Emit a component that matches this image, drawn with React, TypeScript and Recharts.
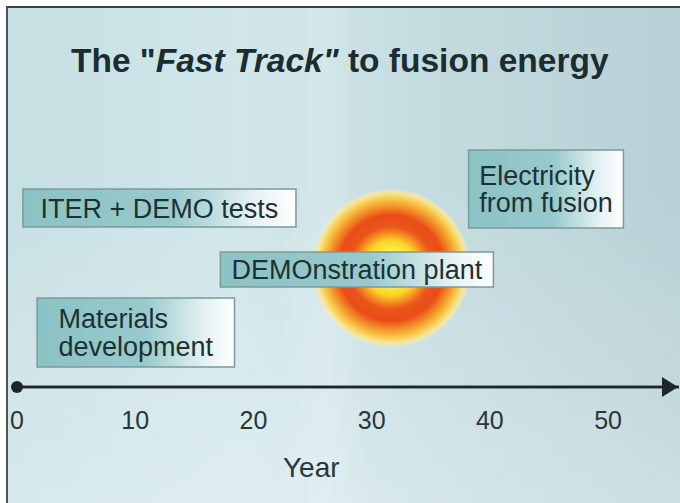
import React from "react";
import { ComposedChart, XAxis, YAxis, Line, ReferenceArea, ReferenceDot } from "recharts";

const FONT = '"Liberation Sans", Arial, Helvetica, sans-serif';

const yearTicks = [0, 10, 20, 30, 40, 50];

// the time arrow itself: from year 0 to the arrow tip
const axisYears = [0, 56];
const axisLevels = [0, 0];

// phases on the timeline: label lines, start/end year and vertical band (arbitrary units)
const phaseLines = [
  ["ITER + DEMO tests"],
  ["DEMOnstration plant"],
  ["Materials", "development"],
  ["Electricity", "from fusion"],
];
const phaseStart = [0.5, 17.2, 1.7, 38.2];
const phaseEnd = [23.6, 40.3, 18.4, 51.3];
const phaseLow = [16.0, 10.0, 2.0, 15.9];
const phaseHigh = [19.8, 13.5, 8.9, 23.7];

// the fusion "sun" behind the demo plant
const sunYears = [24.9, 38.4];
const sunLevels = [3.9, 19.9];

const axisData = axisYears.map((year, i) => ({ year, level: axisLevels[i] }));

let measureCtx: CanvasRenderingContext2D | null = null;
function textWidth(s: string, size: number) {
  if (!measureCtx) measureCtx = document.createElement("canvas").getContext("2d");
  if (!measureCtx) return s.length * size * 0.55;
  measureCtx.font = `${size}px "Liberation Sans"`;
  return measureCtx.measureText(s).width;
}

function phaseShape(lines: string[]) {
  return (props: any) => {
    const { x, y, width, height } = props;
    const fs = 27;
    const lh = 27.5;
    const capH = fs * 0.72;
    const blockW = Math.max(...lines.map((l) => textWidth(l, fs)));
    const tx = x + (width - blockW) / 2;
    const blockH = capH + (lines.length - 1) * lh;
    const base = y + (height - blockH) / 2 + capH;
    return (
      <g>
        <rect
          x={x}
          y={y}
          width={width}
          height={height}
          fill="url(#boxFill)"
          stroke="#7b9a9c"
          strokeWidth={1.5}
        />
        <text fontFamily={FONT} fontSize={fs} fill="#1d3135">
          {lines.map((l, i) => (
            <tspan key={i} x={tx} y={base + i * lh}>
              {l}
            </tspan>
          ))}
        </text>
      </g>
    );
  };
}

function sunShape(props: any) {
  const { x, y, width, height } = props;
  const r = Math.min(width, height) / 2;
  return <circle cx={x + width / 2} cy={y + height / 2} r={r} fill="url(#sunFill)" />;
}

function arrowHead(props: any) {
  const { cx, cy } = props;
  return (
    <polygon
      points={`${cx - 1},${cy} ${cx - 17},${cy - 10} ${cx - 17},${cy + 10}`}
      fill="#1d2729"
    />
  );
}

export default function App() {
  return (
    <div
      style={{
        position: "absolute",
        left: 0,
        top: 0,
        width: 680,
        height: 503,
        background: "#ffffff",
        overflow: "hidden",
      }}
    >
      {/* slide background */}
      <div
        style={{
          position: "absolute",
          left: 6,
          top: 6,
          width: 674,
          height: 497,
          boxSizing: "border-box",
          borderLeft: "2px solid #4a5658",
          borderTop: "2px solid #3a4446",
          background: [
            "linear-gradient(90deg, rgba(255,255,255,0) 40%, rgba(255,255,255,0.16) 46%, rgba(255,255,255,0.18) 48%, rgba(255,255,255,0) 53%)",
            "linear-gradient(180deg, rgba(255,255,255,0) 35%, rgba(255,255,255,0.3) 100%)",
            "linear-gradient(90deg, #c6dfe3 0%, #d0e6ea 35%, #c3dbdf 65%, #b6d0d5 100%)",
          ].join(","),
        }}
      />

      <ComposedChart
        width={680}
        height={503}
        data={axisData}
        margin={{ top: 7, right: 1, bottom: 0, left: 17 }}
        style={{ position: "absolute", left: 0, top: 0 }}
      >
        <defs>
          <linearGradient id="boxFill" x1="0" y1="0" x2="1" y2="0">
            <stop offset="0%" stopColor="#8bc2c4" />
            <stop offset="55%" stopColor="#98cacc" />
            <stop offset="85%" stopColor="#e6f2f3" />
            <stop offset="100%" stopColor="#ffffff" />
          </linearGradient>
          <radialGradient id="sunFill" cx="0.5" cy="0.5" r="0.5">
            <stop offset="0%" stopColor="#fff8b0" />
            <stop offset="22%" stopColor="#fff04a" />
            <stop offset="34%" stopColor="#fbd426" />
            <stop offset="44%" stopColor="#f58a20" />
            <stop offset="52%" stopColor="#ea561a" />
            <stop offset="66%" stopColor="#e94c18" />
            <stop offset="76%" stopColor="#f28a26" />
            <stop offset="86%" stopColor="#f8c444" />
            <stop offset="94%" stopColor="#fbe68c" stopOpacity={0.9} />
            <stop offset="100%" stopColor="#fdf0b0" stopOpacity={0} />
          </radialGradient>
        </defs>

        <XAxis
          type="number"
          dataKey="year"
          domain={[0, 56]}
          ticks={yearTicks}
          interval={0}
          height={116}
          tickLine={false}
          tickMargin={18}
          axisLine={{ stroke: "#1d2729", strokeWidth: 2.5 }}
          tick={{ fontSize: 25, fill: "#28373a", fontFamily: FONT }}
        />
        <YAxis hide type="number" domain={[0, 38]} />

        <ReferenceArea
          x1={sunYears[0]}
          x2={sunYears[1]}
          y1={sunLevels[0]}
          y2={sunLevels[1]}
          shape={sunShape}
        />

        {phaseLines.map((lines, i) => (
          <ReferenceArea
            key={i}
            x1={phaseStart[i]}
            x2={phaseEnd[i]}
            y1={phaseLow[i]}
            y2={phaseHigh[i]}
            shape={phaseShape(lines)}
          />
        ))}

        <Line
          dataKey="level"
          stroke="#1d2729"
          strokeWidth={2.5}
          dot={false}
          activeDot={false}
          isAnimationActive={false}
        />

        <ReferenceDot x={0} y={0} r={6} fill="#1d2729" stroke="none" ifOverflow="visible" />
        <ReferenceDot x={56} y={0} shape={arrowHead} ifOverflow="visible" />
      </ComposedChart>

      {/* title and axis name */}
      <svg
        width={680}
        height={503}
        style={{ position: "absolute", left: 0, top: 0, pointerEvents: "none" }}
      >
        <text x={71} y={72} fontFamily={FONT} fontSize={33.5} fontWeight="bold" fill="#1b2d31">
          The "<tspan fontStyle="italic">Fast Track"</tspan> to fusion energy
        </text>
        <text x={283} y={477} fontFamily={FONT} fontSize={28} fill="#28373a">
          Year
        </text>
      </svg>
    </div>
  );
}
